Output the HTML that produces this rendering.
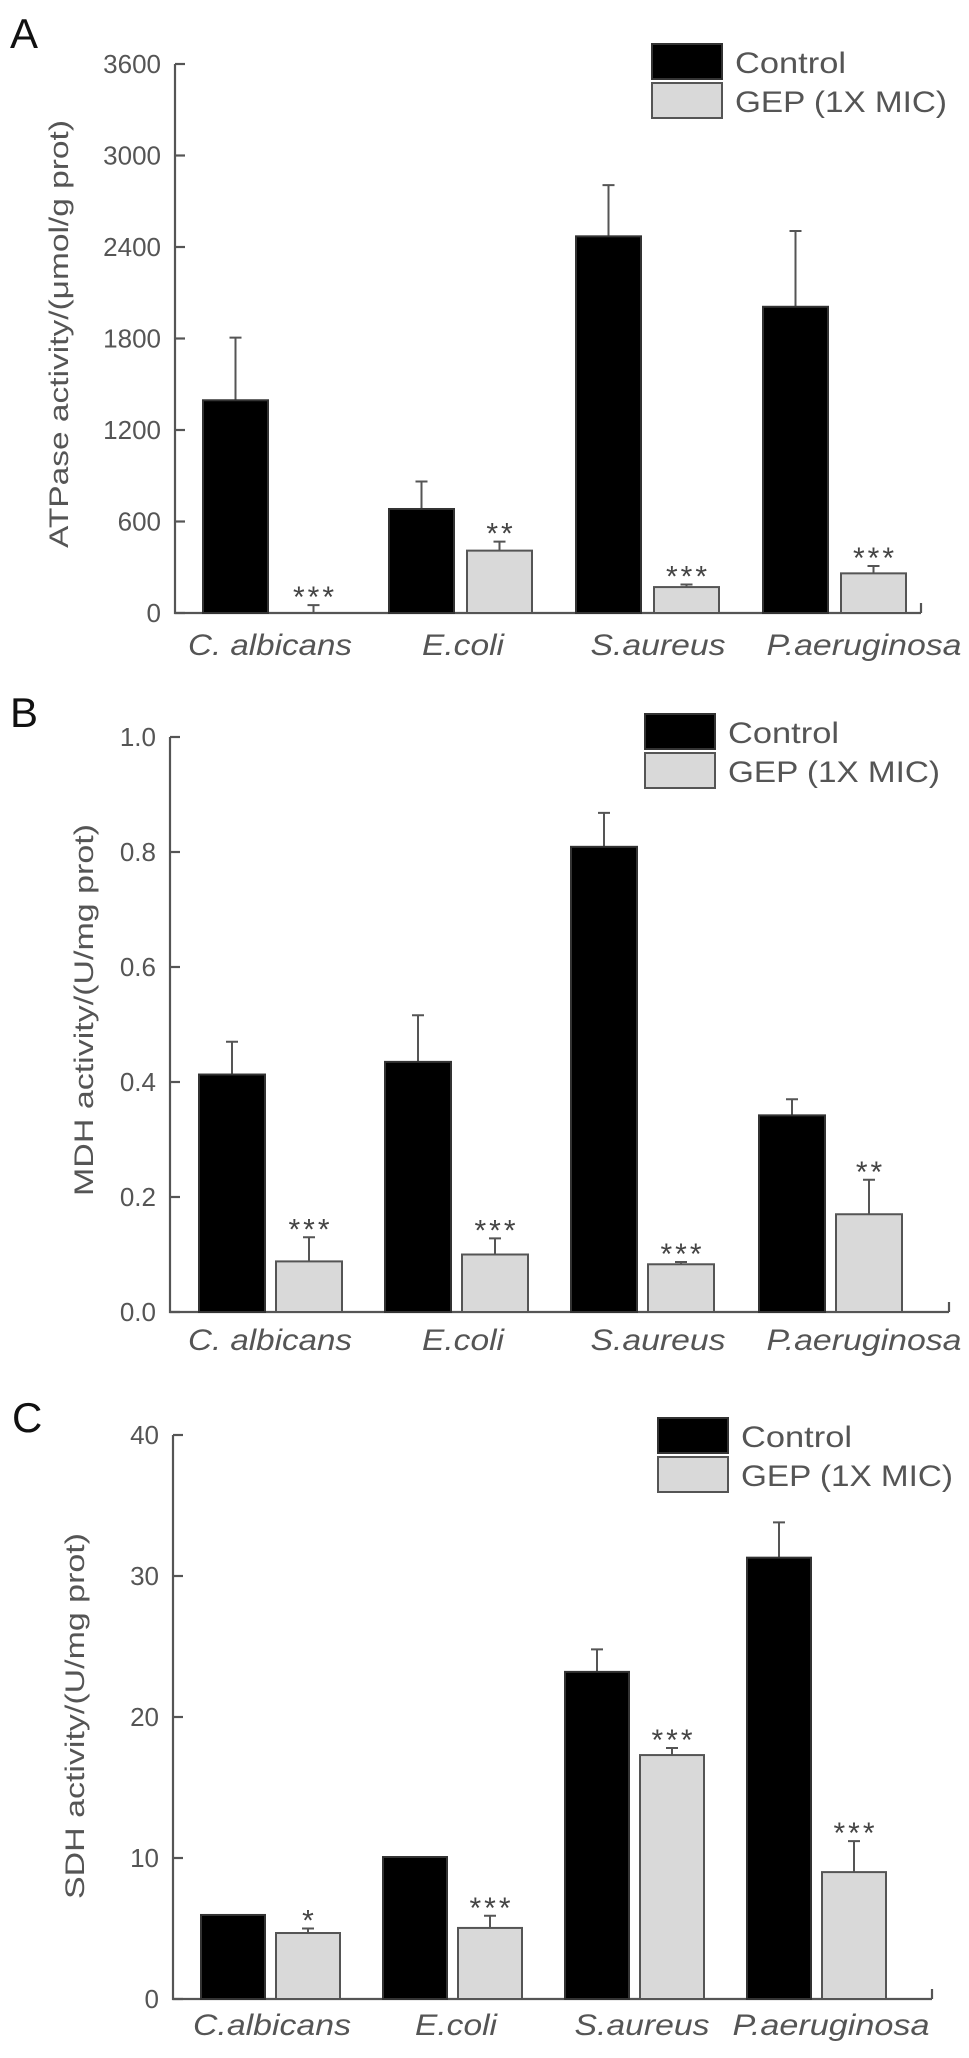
<!DOCTYPE html>
<html><head><meta charset="utf-8"><style>
html,body{margin:0;padding:0;background:#fff;width:969px;height:2058px;overflow:hidden}
svg{display:block}
text{font-family:"Liberation Sans",Arial,sans-serif;fill:#555}
</style></head><body>
<svg id="fig" width="969" height="2058" viewBox="0 0 969 2058" xmlns="http://www.w3.org/2000/svg"></svg>
<script>
// Panel A data
const catsA = ["C. albicans","E.coli","S.aureus","P.aeruginosa"];
const ctlA = [1395, 682, 2470, 2008];
const ctlErrA = [1806, 862, 2806, 2505];
const gepA = [0, 409, 170, 260];
const gepErrA = [52, 468, 187, 308];
const starsA = ["***","**","***","***"];
const ticksA = [0,600,1200,1800,2400,3000,3600];
// Panel B data
const catsB = ["C. albicans","E.coli","S.aureus","P.aeruginosa"];
const ctlB = [0.413, 0.435, 0.809, 0.342];
const ctlErrB = [0.47, 0.516, 0.868, 0.37];
const gepB = [0.088, 0.1, 0.083, 0.17];
const gepErrB = [0.13, 0.128, 0.087, 0.23];
const starsB = ["***","***","***","**"];
const ticksB = ["0.0","0.2","0.4","0.6","0.8","1.0"];
// Panel C data
const catsC = ["C.albicans","E.coli","S.aureus","P.aeruginosa"];
const ctlC = [5.96, 10.07, 23.2, 31.3];
const ctlErrC = [null, null, 24.8, 33.8];
const gepC = [4.68, 5.04, 17.3, 9.0];
const gepErrC = [5.0, 5.9, 17.8, 11.2];
const starsC = ["*","***","***","***"];
const ticksC = [0,10,20,30,40];

const NS="http://www.w3.org/2000/svg";
const svg=document.getElementById('fig');
function mk(tag,attrs,parent,txt){const e=document.createElementNS(NS,tag);for(const k in attrs)e.setAttribute(k,attrs[k]);if(txt!==undefined)e.textContent=txt;(parent||svg).appendChild(e);return e;}

function panel(p){
  const g=mk('g',{});
  
  
  const y=v=>p.y0-(v-p.vmin)/(p.vmax-p.vmin)*(p.y0-p.y1);
  const L=mk('text',{x:p.letterX,y:p.letterY,'font-size':42,style:'fill:#111'},g,p.letter);
  
  
  const ax=mk('path',{d:`M${p.ax} ${p.y1} V${p.y0} H${p.axEnd} M${p.axEnd} ${p.y0} v-10`,stroke:'#555','stroke-width':2.2,fill:'none'},g);
  
  
  p.ticks.forEach(t=>{
    const v=parseFloat(t);const yy=y(v);
    const tk=mk('line',{x1:p.ax,x2:p.ax+10,y1:yy,y2:yy,stroke:'#555','stroke-width':2.2},g);
    
    
    const tl=mk('text',{x:p.ax-14,y:yy+9,'font-size':26,'text-anchor':'end'},g,String(t));
    
    
  });
  const yt=mk('text',{x:0,y:0,'font-size':27,'text-anchor':'middle',transform:`translate(${p.ytX},${p.ytY}) rotate(-90)`,textLength:p.ytLen,lengthAdjust:'spacingAndGlyphs'},g,p.ytitle);
  
  
  p.cats.forEach((c,i)=>{
    const x0=p.gx[i], bw=p.bw, gap=p.gap;
    const bars=[[x0,p.ctl[i],p.ctlErr[i],'#000','#333','bar-control'],[x0+bw+gap,p.gep[i],p.gepErr[i],'#d9d9d9','#555','bar-gep']];
    bars.forEach(b=>{
      const top=y(b[1]);
      if(b[2]!==null && b[2]!==undefined){
        const ey=y(b[2]);const cx=b[0]+bw/2;
        const e=mk('path',{d:`M${cx} ${top} V${ey} M${cx-6} ${ey} H${cx+6}`,stroke:'#555','stroke-width':2,fill:'none'},g);
        
        
      }
      const r=mk('rect',{x:b[0],y:top,width:bw,height:Math.max(0,p.y0-top),fill:b[3],stroke:b[4],'stroke-width':2},g);
      
      
    });
    const gx=x0+bw+gap+bw/2;
    const sy=y(p.gepErr[i]!=null?p.gepErr[i]:p.gep[i])-12;
    const s=mk('text',{x:gx+1.5,y:sy+14,'font-size':30,'letter-spacing':3,'text-anchor':'middle',style:'fill:#444'},g,p.stars[i]);
    
    
    const cl=mk('text',{x:p.cx[i],y:p.labY,'font-size':30,'font-style':'italic','text-anchor':'middle',textLength:p.cw[i],lengthAdjust:'spacingAndGlyphs'},g,c);
    
    
  });
  const lg=mk('g',{},g);
  
  
  const r1=mk('rect',{x:p.lgX,y:p.lgY,width:70,height:35,fill:'#000',stroke:'#333','stroke-width':2},lg);
  
  
  const r2=mk('rect',{x:p.lgX,y:p.lgY+39,width:70,height:35,fill:'#d9d9d9',stroke:'#555','stroke-width':2},lg);
  
  
  const t1=mk('text',{x:p.lgX+83,y:p.lgY+29,'font-size':30,textLength:111,lengthAdjust:'spacingAndGlyphs'},lg,'Control');
  
  
  const t2=mk('text',{x:p.lgX+83,y:p.lgY+68,'font-size':30,textLength:212,lengthAdjust:'spacingAndGlyphs'},lg,'GEP (1X MIC)');
  
  
}

panel({name:'panel-a-atpase',letter:'A',letterX:10,letterY:48,ax:175,axEnd:921,y0:613,y1:64,vmin:0,vmax:3600,
  ticks:ticksA,ytitle:'ATPase activity/(\u03bcmol/g prot)',ytX:68,ytY:334,ytLen:428,
  cats:catsA,ctl:ctlA,ctlErr:ctlErrA,gep:gepA,gepErr:gepErrA,stars:starsA,
  gx:[203,389,576,763],bw:65,gap:13,cx:[270,463,658,864],cw:[164,82,135,195],labY:655,lgX:652,lgY:44});
panel({name:'panel-b-mdh',letter:'B',letterX:10,letterY:727,ax:170,axEnd:949,y0:1312,y1:737,vmin:0,vmax:1.0,
  ticks:ticksB,ytitle:'MDH activity/(U/mg prot)',ytX:93,ytY:1010,ytLen:372,
  cats:catsB,ctl:ctlB,ctlErr:ctlErrB,gep:gepB,gepErr:gepErrB,stars:starsB,
  gx:[199,385,571,759],bw:66,gap:11,cx:[270,463,658,864],cw:[164,82,135,195],labY:1350,lgX:645,lgY:714});
panel({name:'panel-c-sdh',letter:'C',letterX:12,letterY:1432,ax:173,axEnd:932,y0:1999,y1:1435,vmin:0,vmax:40,
  ticks:ticksC,ytitle:'SDH activity/(U/mg prot)',ytX:84,ytY:1716,ytLen:366,
  cats:catsC,ctl:ctlC,ctlErr:ctlErrC,gep:gepC,gepErr:gepErrC,stars:starsC,
  gx:[201,383,565,747],bw:64,gap:11,cx:[272,456,642,831],cw:[158,82,135,197],labY:2035,lgX:658,lgY:1418});
</script>
</body></html>
